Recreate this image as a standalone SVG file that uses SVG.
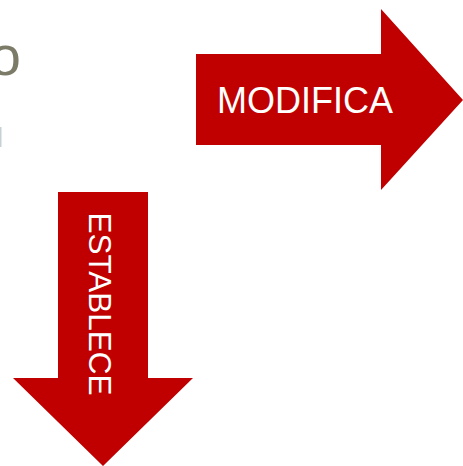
<svg xmlns="http://www.w3.org/2000/svg" width="463" height="466" viewBox="0 0 463 466">
<style>
.arrow{fill:#c00000}
.lbl{fill:#ffffff;font-family:"Liberation Sans",Arial,sans-serif}
.bg{fill:#7b7b68;font-family:"Liberation Sans",Arial,sans-serif}
</style>
<rect width="463" height="466" fill="#ffffff"/>
<g id="bg-text">
<text class="bg" x="21" y="75" font-size="56" text-anchor="end">o</text>
<text x="-3" y="147" font-size="28" fill="#cfcfc6" font-family="Liberation Sans, Arial, sans-serif">l</text>
</g>
<g id="modifica">
<polygon class="arrow" points="196,54 381,54 381,9 463,100 381,190 381,145 196,145"/>
<text class="lbl" x="217" y="113" font-size="36">MODIFICA</text>
</g>
<g id="establece">
<polygon class="arrow" points="58,192 148,192 148,378 193,378 103,466 13,378 58,378"/>
<text class="lbl" transform="translate(89,304) rotate(90)" x="0" y="0" font-size="31.5" text-anchor="middle">ESTABLECE</text>
</g>
<g id="connectors"></g>
</svg>
